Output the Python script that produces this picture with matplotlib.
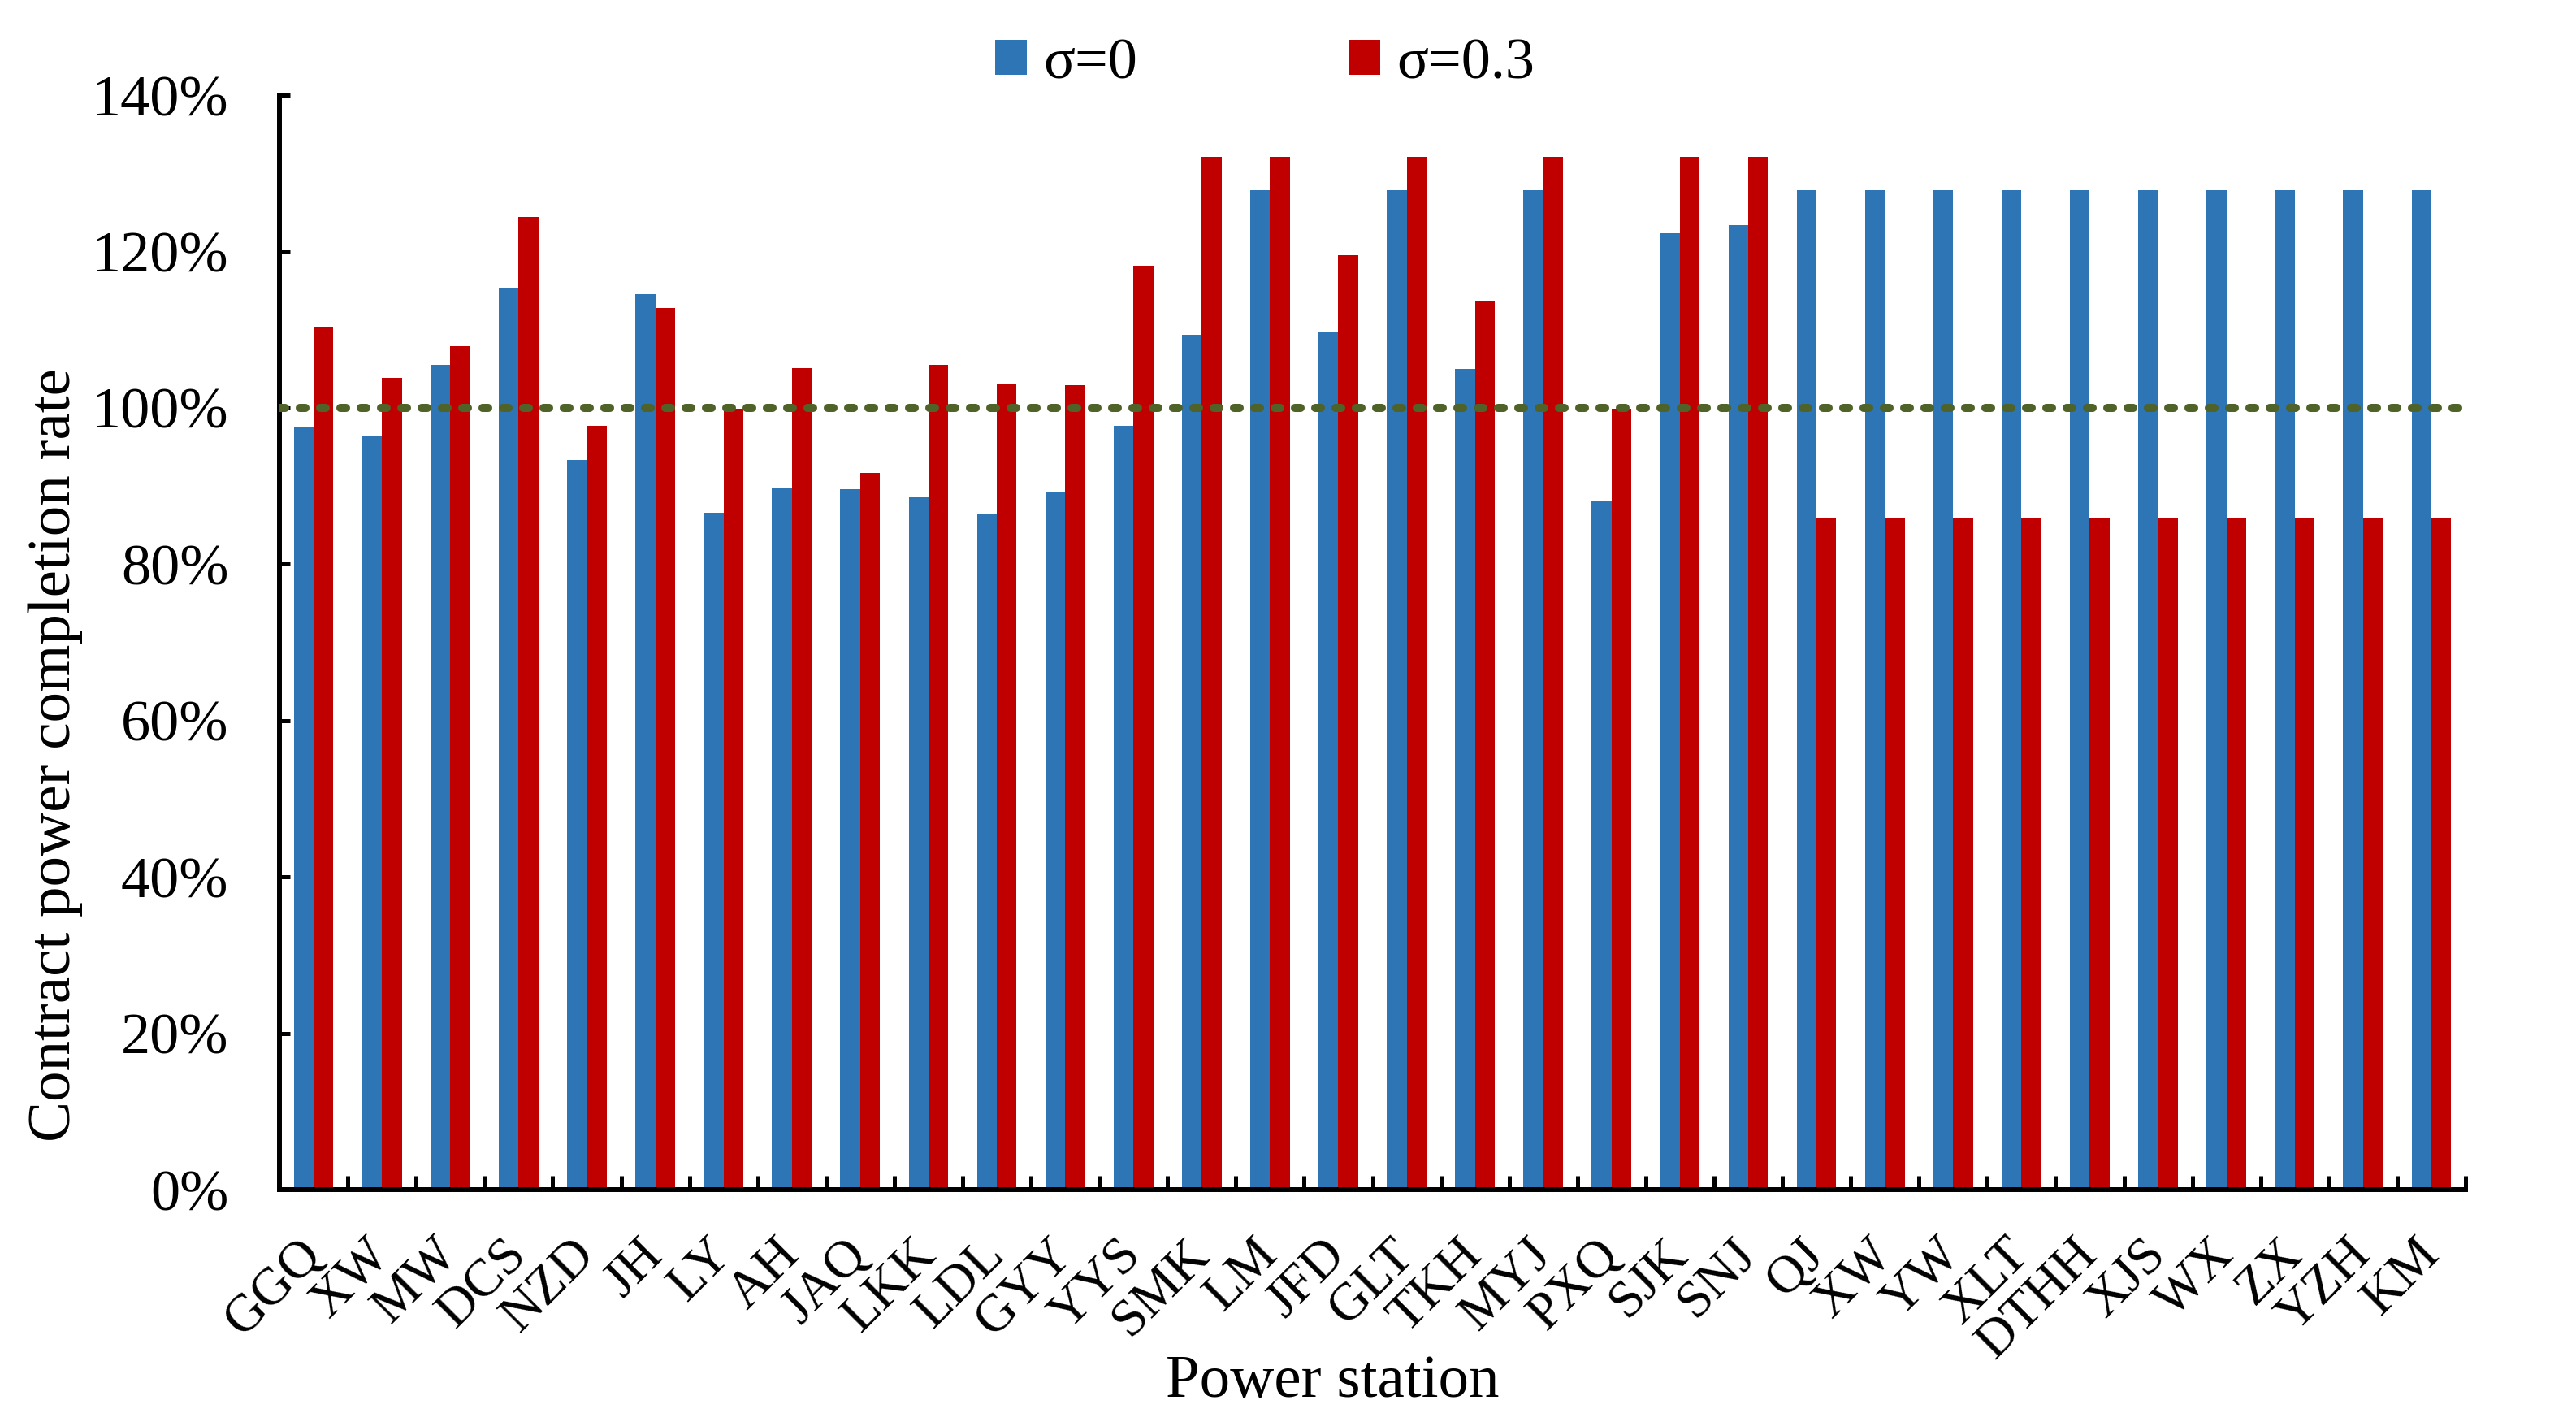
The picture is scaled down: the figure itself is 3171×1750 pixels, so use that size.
import matplotlib
matplotlib.use('Agg')
import matplotlib.pyplot as plt
import numpy as np
from matplotlib.ticker import FuncFormatter, MultipleLocator, FixedLocator

plt.rcParams['font.family'] = ['Liberation Serif', 'DejaVu Serif']

stations = ['GGQ', 'XW', 'MW', 'DCS', 'NZD', 'JH', 'LY', 'AH', 'JAQ', 'LKK', 'LDL',
            'GYY', 'YYS', 'SMK', 'LM', 'JFD', 'GLT', 'TKH', 'MYJ', 'PXQ', 'SJK', 'SNJ',
            'QJ', 'XW', 'YW', 'XLT', 'DTHH', 'XJS', 'WX', 'ZX', 'YZH', 'KM']
rate_s0 = [97.5, 96.5, 105.5, 115.4, 93.3, 114.5, 86.6, 89.8, 89.6, 88.6, 86.5,
           89.2, 97.7, 109.3, 127.8, 109.7, 127.8, 105.0, 127.8, 88.0, 122.3, 123.4,
           127.8, 127.8, 127.8, 127.8, 127.8, 127.8, 127.8, 127.8, 127.8, 127.8]
rate_s03 = [110.4, 103.8, 107.9, 124.4, 97.7, 112.8, 99.9, 105.1, 91.7, 105.5, 103.1,
            102.9, 118.2, 132.1, 132.1, 119.5, 132.1, 113.6, 132.1, 99.9, 132.1, 132.1,
            86.0, 86.0, 86.0, 86.0, 86.0, 86.0, 86.0, 86.0, 86.0, 86.0]
target = 100

x = np.arange(len(stations))
w = 0.29

fig = plt.figure(figsize=(31.71, 17.5), dpi=100)
ax = fig.add_axes([0.1085, 0.1634, 0.8486, 0.7697])

b1 = ax.bar(x - w / 2, rate_s0, w, color='#2E75B6', label='σ=0', zorder=2)
b2 = ax.bar(x + w / 2, rate_s03, w, color='#C00000', label='σ=0.3', zorder=2)
# linea punteada del 100%
ax.axhline(target, color='#4F6228', lw=7.2, dashes=(0.7, 1.8),
           dash_capstyle='round', zorder=3)

ax.set_xlim(-0.5, len(stations) - 0.5)
ax.set_ylim(0, 140)
ax.yaxis.set_major_locator(MultipleLocator(20))
ax.yaxis.set_major_formatter(FuncFormatter(lambda v, p: '%d%%' % v))

ax.set_xticks(x)
ax.set_xticklabels(stations, rotation=45, ha='right', va='center',
                   rotation_mode='anchor')
ax.xaxis.set_minor_locator(FixedLocator(np.arange(0.5, len(stations), 1)))
ax.tick_params(axis='x', which='major', length=0, pad=51, labelsize=47)
ax.tick_params(axis='x', which='minor', direction='in', length=12, width=3.6)
ax.tick_params(axis='y', which='major', direction='in', length=9.4, width=3.6,
               pad=45, labelsize=52)

for s in ['top', 'right']:
    ax.spines[s].set_visible(False)
for s in ['left', 'bottom']:
    ax.spines[s].set_linewidth(4.3)

ax.set_ylabel('Contract power completion rate', fontsize=54)
ax.yaxis.set_label_coords(-0.090, 0.397)
ax.set_xlabel('Power station', fontsize=54)
ax.xaxis.set_label_coords(0.4816, -0.151)

fig.legend(handles=[b1, b2], loc='center', bbox_to_anchor=(0.491, 0.955),
           ncol=2, frameon=False, fontsize=52, handlelength=0.54,
           handleheight=0.55, handletextpad=0.28, columnspacing=3.6,
           borderpad=0)

fig.savefig('out.png', dpi=100)
